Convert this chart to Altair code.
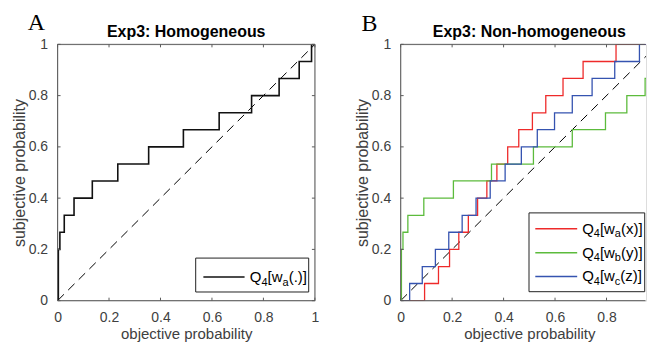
import altair as alt
import pandas as pd

# ---------------- data ----------------
TICKS = [0, 0.2, 0.4, 0.6, 0.8, 1]
TICKS_B = [0, 0.2, 0.4, 0.6, 0.8]          # the "1" of panel B falls outside the picture
DIAG = [0.0, 1.0]

A_X = [0.0, 0.003, 0.009, 0.026, 0.064, 0.135, 0.234, 0.354, 0.489, 0.628, 0.754, 0.861, 0.939, 0.987, 1.0]
A_Y = [0.0, 0.2, 0.267, 0.333, 0.4, 0.467, 0.533, 0.6, 0.667, 0.733, 0.8, 0.867, 0.933, 1.0, 1.0]

RED_X = [0.0, 0.093, 0.147, 0.190, 0.226, 0.263, 0.299, 0.335, 0.374, 0.416, 0.459, 0.512, 0.564, 0.631, 0.709, 0.837, 1.0]
RED_Y = [0.0, 0.067, 0.133, 0.2, 0.267, 0.333, 0.4, 0.467, 0.533, 0.6, 0.667, 0.733, 0.8, 0.867, 0.933, 1.0, 1.0]

GREEN_X = [0.0, 0.003, 0.009, 0.028, 0.090, 0.205, 0.353, 0.516, 0.667, 0.796, 0.879, 0.950, 0.979, 1.0]
GREEN_Y = [0.0, 0.2, 0.267, 0.333, 0.4, 0.467, 0.533, 0.6, 0.667, 0.733, 0.8, 0.867, 0.933, 1.0]

BLUE_X = [0.0, 0.035, 0.084, 0.135, 0.187, 0.239, 0.293, 0.348, 0.406, 0.469, 0.531, 0.598, 0.667, 0.744, 0.832, 0.928, 1.0]
BLUE_Y = [0.0, 0.067, 0.133, 0.2, 0.267, 0.333, 0.4, 0.467, 0.533, 0.6, 0.667, 0.733, 0.8, 0.867, 0.933, 1.0, 1.0]

TITLES = ["Exp3: Homogeneous", "Exp3: Non-homogeneous"]
LETTERS = ["A", "B"]
X_TITLE = "objective probability"
Y_TITLE = "subjective probability"
# legend labels: (main, subscript, main, subscript, main)
LEGEND_A = [("Q", "4", "[w", "a", "(.)]")]
LEGEND_B = [("Q", "4", "[w", "a", "(x)]"),
            ("Q", "4", "[w", "b", "(y)]"),
            ("Q", "4", "[w", "c", "(z)]")]

# ---------------- styles / layout ----------------
FONT = "Liberation Sans"
SERIF = "Liberation Serif"
W, H = 258, 257            # full plot box (pixels per unit = 258)
WB = 246                   # visible part of panel B (cut at the page margin)
XMAX_B = WB / W            # x-domain shown in panel B
BOX_C = "#5a5a5a"
LAB_C = "#404040"
C_BLACK = "#111111"
C_RED = "#ee2a2a"
C_GREEN = "#5cbb3c"
C_BLUE = "#3553b0"
MAIN_FS = 15
SUB_FS = 11
SUB_DY = 3.5
EM = {"Q": 0.778, "4": 0.556, "[": 0.278, "w": 0.722, "a": 0.556, "b": 0.556,
      "c": 0.5, "(": 0.333, ")": 0.333, "x": 0.5, "y": 0.5, "z": 0.5, "]": 0.278, ".": 0.278}

YSCALE = alt.Scale(domain=[0, 1], nice=False, zero=False)


def x_axis(values):
    return alt.Axis(values=values, format="~g", grid=False, ticks=False, tickSize=0, domain=False,
                    labelFlush=False, labelFont=FONT, labelFontSize=14, labelColor=LAB_C, labelPadding=10,
                    titleFont=FONT, titleFontSize=15, titleFontWeight="normal", titleColor=LAB_C,
                    titleBaseline="alphabetic", titleX=W / 2, titleY=38)


YAXIS = alt.Axis(values=TICKS, format="~g", grid=False, ticks=False, tickSize=0, domain=False,
                 labelFlush=False, labelFont=FONT, labelFontSize=14, labelColor=LAB_C, labelPadding=10,
                 titleFont=FONT, titleFontSize=16, titleFontWeight="normal", titleColor=LAB_C,
                 titleBaseline="alphabetic", titleAngle=270, titleX=-33)


def one(text=""):
    return pd.DataFrame({"t": [text]})


def text_width(s, fs):
    return sum(EM.get(ch, 0.55) for ch in s) * fs


def make_panel(xmax, width, xticks, series, legend, legend_colors, legend_box, legend_line,
               legend_text_x, legend_rows, title, letter, letter_xy, right_border):
    xscale = alt.Scale(domain=[0, xmax], nice=False, zero=False)
    xaxis = x_axis(xticks)

    def xenc():
        return alt.X("x:Q", scale=xscale, axis=xaxis, title=X_TITLE)

    def yenc():
        return alt.Y("y:Q", scale=YSCALE, axis=YAXIS, title=Y_TITLE)

    layers = [alt.Chart(pd.DataFrame({"x": DIAG, "y": DIAG})).mark_line(
        color="black", strokeWidth=1, strokeDash=[9, 6], clip=True).encode(x=xenc(), y=yenc())]
    for xs, ys, col, lw in series:
        layers.append(alt.Chart(pd.DataFrame({"x": xs, "y": ys})).mark_line(
            interpolate="step-after", color=col, strokeWidth=lw, clip=True).encode(x=xenc(), y=yenc()))

    # box
    bm = dict(color=BOX_C, strokeWidth=1)
    right = width if right_border else width - 0.5
    layers += [
        alt.Chart(one()).mark_rule(**bm).encode(x=alt.value(0), x2=alt.value(right), y=alt.value(0)),
        alt.Chart(one()).mark_rule(**bm).encode(x=alt.value(0), x2=alt.value(right), y=alt.value(H)),
        alt.Chart(one()).mark_rule(**bm).encode(x=alt.value(0), y=alt.value(0), y2=alt.value(H)),
    ]
    if right_border:
        layers.append(alt.Chart(one()).mark_rule(**bm).encode(x=alt.value(width), y=alt.value(0), y2=alt.value(H)))

    # inward ticks
    tx = pd.DataFrame({"x": xticks})
    ty = pd.DataFrame({"y": TICKS})
    layers += [
        alt.Chart(tx).mark_rule(**bm).encode(x=xenc(), y=alt.value(H), y2=alt.value(H - 3)),
        alt.Chart(tx).mark_rule(**bm).encode(x=xenc(), y=alt.value(0), y2=alt.value(3)),
        alt.Chart(ty).mark_rule(**bm).encode(y=yenc(), x=alt.value(0), x2=alt.value(3)),
    ]
    if right_border:
        layers.append(alt.Chart(ty).mark_rule(**bm).encode(y=yenc(), x=alt.value(width), x2=alt.value(width - 3)))

    # legend
    x1, x2, y1, y2 = legend_box
    layers.append(alt.Chart(one()).mark_rect(fill="white", stroke="#222222", strokeWidth=1)
                  .encode(x=alt.value(x1), x2=alt.value(x2), y=alt.value(y1), y2=alt.value(y2)))
    for parts, col, ly in zip(legend, legend_colors, legend_rows):
        layers.append(alt.Chart(one()).mark_rule(color=col, strokeWidth=1.5)
                      .encode(x=alt.value(legend_line[0]), x2=alt.value(legend_line[1]), y=alt.value(ly)))
        cx = legend_text_x
        base = ly + 5
        for k, piece in enumerate(parts):
            sub = k % 2 == 1
            fs = SUB_FS if sub else MAIN_FS
            layers.append(alt.Chart(one(piece)).mark_text(font=FONT, fontSize=fs, color="black",
                                                          align="left", baseline="alphabetic")
                          .encode(x=alt.value(cx), y=alt.value(base + (SUB_DY if sub else 0)), text="t:N"))
            cx += text_width(piece, fs)

    # title and panel letter
    layers += [
        alt.Chart(one(title)).mark_text(font=FONT, fontSize=16, fontWeight="bold", color="black",
                                        align="center", baseline="alphabetic")
        .encode(x=alt.value(W / 2), y=alt.value(-7.3), text="t:N"),
        alt.Chart(one(letter)).mark_text(font=SERIF, fontSize=24, color="black",
                                         align="left", baseline="alphabetic")
        .encode(x=alt.value(letter_xy[0]), y=alt.value(letter_xy[1]), text="t:N"),
    ]
    return alt.layer(*layers).properties(width=width, height=H)


panel_a = make_panel(1.0, W, TICKS, [(A_X, A_Y, C_BLACK, 1.6)],
                     LEGEND_A, [C_BLACK], (138.5, 251.8, 214.3, 248.3), (146.2, 187.5), 192.8, [233.3],
                     TITLES[0], LETTERS[0], (-29.8, -14), True)

panel_b = make_panel(XMAX_B, WB, TICKS_B,
                     [(RED_X, RED_Y, C_RED, 1.3), (GREEN_X, GREEN_Y, C_GREEN, 1.3), (BLUE_X, BLUE_Y, C_BLUE, 1.3)],
                     LEGEND_B, [C_RED, C_GREEN, C_BLUE], (128.7, 244.7, 169, 248), (135, 177), 182,
                     [185, 209, 232.7], TITLES[1], LETTERS[1], (-39.3, -13), False)

chart = alt.hconcat(
    panel_a, panel_b, spacing=86, bounds="flush",
    padding={"left": 2.7, "top": 2, "right": 0, "bottom": -0.5},
).configure_view(stroke=None).configure(background="white")

chart.save("out.html", embed_options={"renderer": "svg", "actions": False})
